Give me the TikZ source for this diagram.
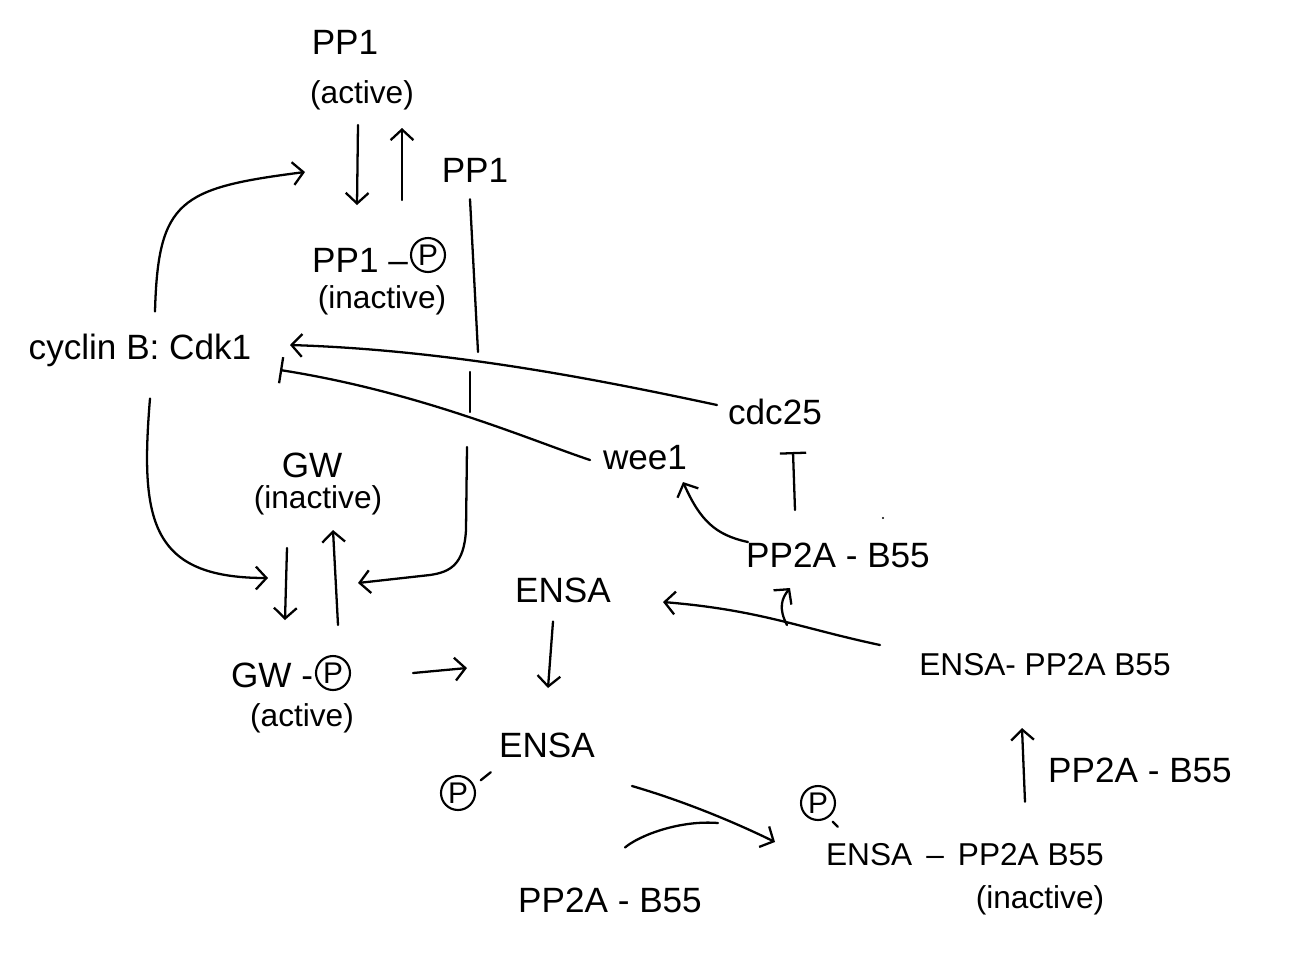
\documentclass[tikz,border=0pt]{standalone}
\usepackage{fontspec}
\setmainfont{Liberation Sans}
\usetikzlibrary{arrows.meta}

\begin{document}
\begin{tikzpicture}[x=0.02cm,y=-0.02cm,
  lbl/.style={font=\fontsize{20}{24}\selectfont, inner sep=1pt},
  cplx/.style={font=\fontsize{18}{22}\selectfont, inner sep=1pt},
  sub/.style={font=\fontsize{18}{22}\selectfont, inner sep=1pt},
  pcirc/.style={draw, circle, line width=1.2pt, inner sep=0pt, minimum size=0.68cm,
                font=\fontsize{17}{19}\selectfont},
  link/.style={line width=1.3pt, line cap=round},
  act/.style={link, -{Straight Barb[length=6pt,width=13pt,line width=1.3pt]}},
  inh/.style={link, -{Bar[width=15pt,line width=1.3pt]}}]

\useasboundingbox (0,0) rectangle (1316,964);

% ---- PP1 module ----
\node[lbl] (pp1a) at (345,42) {PP1};
\node[sub] (pp1aS) at (362,95) {(active)};
\node[lbl] (pp1r) at (475,170) {PP1};
\node[lbl] (pp1p) at (360,260) {PP1 –};
\node[pcirc] (pp1pc) at (428,255) {P};
\node[sub] (pp1pS) at (382,300) {(inactive)};

% ---- Cdk1 ----
\node[lbl] (cyc) at (140,350) {cyclin B: Cdk1};

% ---- Greatwall ----
\node[lbl] (gw) at (312,465) {GW};
\node[sub] (gwS) at (318,500) {(inactive)};
\node[lbl] (gwp) at (272,675) {GW -};
\node[pcirc] (gwpc) at (333,673) {P};
\node[sub] (gwpS) at (302,718) {(active)};

% ---- ENSA ----
\node[lbl] (ensa) at (563,590) {ENSA};
\node[pcirc] (pensaC) at (458,793) {P};
\node[lbl] (pensa) at (547,745) {ENSA};
\node[lbl] (b55a) at (610,900) {PP2A - B55};

% ---- complexes ----
\node[pcirc] (cxC) at (818,803) {P};
\node[cplx] (cx) at (965,855) {ENSA \,–\, PP2A B55};
\node[sub] (cxS) at (1040,900) {(inactive)};
\node[lbl] (b55b) at (1140,770) {PP2A - B55};
\node[cplx] (ecx) at (1045,665) {ENSA- PP2A B55};

% ---- PP2A-B55 targets ----
\node[lbl] (b55c) at (838,555) {PP2A - B55};
\node[lbl] (wee) at (645,458) {wee1};
\node[lbl] (cdc) at (775,412) {cdc25};

% bonds to the phosphate circles
\draw[link] (pensaC.north east) ++(10,0) -- ++(10,-8);
\draw[link] (cxC.south east) ++(2,6) -- ++(5,5);

% PP1 cycle
\draw[act] (358,125) -- (357,205);
\draw[act] (402,200) -- (402,128);
\draw[act] (cyc.north) ++(15,-20) .. controls (158,200) and (180,188) .. (305,172);

% PP1 to GW (stroke broken where it crosses)
\draw[link] (pp1r.south) ++(-5,15) -- (478,352);
\draw[link] (470,372) -- (470,412);
\draw[act] (467,447) -- (466,530) .. controls (464,565) and (450,572) .. (430,575) -- (358,583);

% Cdk1 to GW
\draw[act] (cyc.south) ++(10,30) .. controls (140,520) and (150,578) .. (268,578);

% GW cycle
\draw[act] (287,548) -- (285,620);
\draw[act] (338,625) -- (333,530);
\draw[act] (gwpc.east) ++(62,0) -- (467,668);

% ENSA phosphorylation and binding
\draw[act] (ensa.south) ++(-10,17) -- (548,688);
\draw[act] (632,786) .. controls (680,800) and (730,820) .. (775,842);
\draw[link] (b55a.north) ++(15,-38) .. controls (640,835) and (680,820) .. (718,823);
\draw[act] (cx.north) ++(60,-40) -- (1022,728);

% release of ENSA and PP2A-B55
\draw[act] (880,645) .. controls (800,628) and (760,610) .. (663,602);
\draw[act] (787,625) .. controls (778,608) and (782,598) .. (790,588);

% PP2A-B55 on wee1 and cdc25
\draw[act] (748,542) .. controls (715,535) and (700,520) .. (683,482);
\draw[inh] (795,510) -- (793,452);

% wee1 and cdc25 on Cdk1
\draw[act] (717,405) .. controls (600,380) and (450,350) .. (290,345);
\draw[inh] (590,460) .. controls (530,440) and (420,392) .. (280,370);

\fill (883,518) circle (1.2);
\end{tikzpicture}
\end{document}
